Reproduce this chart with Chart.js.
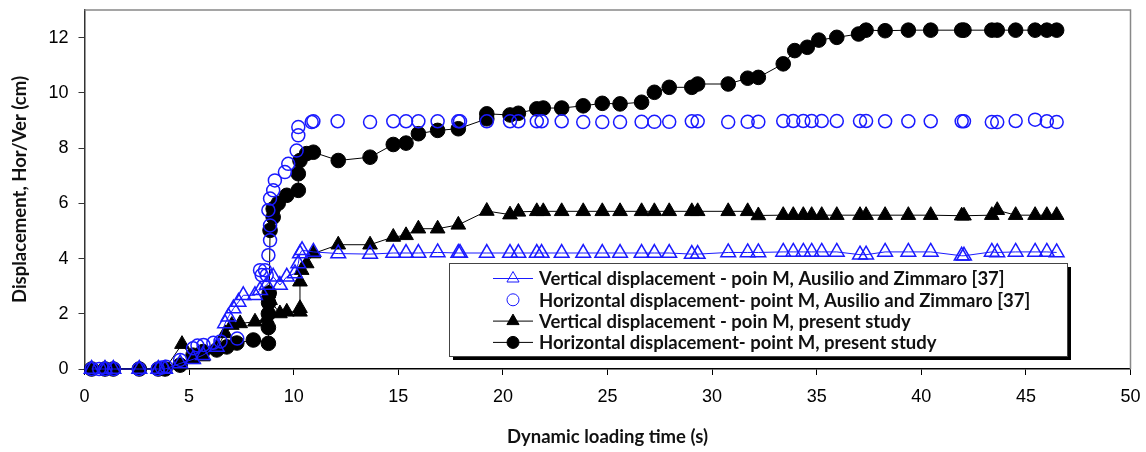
<!DOCTYPE html>
<html>
<head>
<meta charset="utf-8">
<script src="https://cdn.jsdelivr.net/npm/chart.js@4.4.1/dist/chart.umd.min.js"></script>
<style>
  html, body { margin: 0; padding: 0; background: #fff; }
  #wrap { width: 1146px; height: 452px; }
</style>
</head>
<body>
<div id="wrap"><canvas id="chart" width="1146" height="452"></canvas></div>
<script>
// Ausilio and Zimmaro [37] - vertical displacement (open blue triangles, blue line)
const AZ_VER_T = [0.34, 0.98, 1.38, 2.62, 3.53, 3.85, 4.57, 5.19, 5.66, 6.32, 6.72, 6.88, 7.12, 7.36, 7.59, 8.15, 8.39, 8.71, 9.02, 9.34, 9.67, 10.06, 10.22, 10.3, 10.4, 10.94, 12.13, 13.65,
  14.76, 15.37, 15.96, 16.88, 17.87, 17.95, 19.23, 20.34, 20.74, 21.62, 21.85, 22.81, 23.84, 24.75, 25.6, 26.63, 27.24, 27.95, 29.03, 29.31, 30.77, 31.7, 32.21,
  33.4, 33.88, 34.36, 34.76, 35.24, 35.96, 37.07, 37.36, 38.27, 39.38, 40.45, 41.93, 42.04, 43.37, 43.63, 44.51, 45.44, 46.0, 46.47];
const AZ_VER_D = [0, 0, 0, 0, 0, 0, 0.2, 0.35, 0.5, 0.8, 1.65, 1.89, 2.19, 2.43, 2.67, 2.67, 2.85, 3.04, 3.34, 3.04, 3.34, 3.46, 3.82, 4.18, 4.3, 4.24, 4.18, 4.16,
  4.2, 4.2, 4.2, 4.22, 4.2, 4.2, 4.2, 4.2, 4.2, 4.2, 4.2, 4.2, 4.2, 4.2, 4.2, 4.2, 4.2, 4.2, 4.16, 4.16, 4.22, 4.22, 4.22,
  4.24, 4.24, 4.24, 4.24, 4.24, 4.24, 4.14, 4.14, 4.24, 4.24, 4.24, 4.1, 4.1, 4.24, 4.22, 4.24, 4.24, 4.24, 4.22];

// Ausilio and Zimmaro [37] - horizontal displacement (open blue circles, no line)
const AZ_HOR_T = [0.34, 0.7, 1.0, 1.4, 2.6, 3.5, 3.7, 3.9, 4.57, 5.19, 5.4, 5.69, 6.16, 6.5, 7.3, 8.39, 8.47, 8.63, 8.71, 8.79, 8.87, 8.87, 8.79, 8.87, 9.02, 9.1, 9.58, 9.74, 10.14, 10.22, 10.22, 10.86, 10.94, 12.1, 13.65,
  14.76, 15.37, 15.96, 16.88, 17.87, 17.95, 19.23, 20.34, 20.74, 21.62, 21.85, 22.81, 23.84, 24.75, 25.6, 26.63, 27.24, 27.95, 29.03, 29.31, 30.77, 31.7, 32.21,
  33.4, 33.88, 34.36, 34.76, 35.24, 35.96, 37.07, 37.36, 38.27, 39.38, 40.45, 41.93, 42.04, 43.37, 43.63, 44.51, 45.44, 46.0, 46.47];
const AZ_HOR_D = [0, 0, 0, 0, 0, 0, 0.05, 0.08, 0.33, 0.75, 0.85, 0.87, 0.95, 1.0, 1.1, 3.58, 3.4, 3.58, 3.4, 4.12, 4.66, 5.2, 5.75, 6.17, 6.47, 6.83, 7.13, 7.43, 7.91, 8.46, 8.76, 8.94, 8.97, 8.97, 8.94,
  8.97, 8.97, 8.97, 8.97, 8.97, 8.97, 8.97, 8.97, 8.97, 8.97, 8.97, 8.97, 8.94, 8.94, 8.94, 8.95, 8.95, 8.95, 8.97, 8.97, 8.94, 8.95, 8.95,
  8.98, 8.98, 8.98, 8.98, 8.98, 8.98, 8.98, 8.98, 8.97, 8.97, 8.97, 8.97, 8.97, 8.94, 8.94, 8.98, 9.03, 8.97, 8.94];

// Present study - vertical displacement (filled black triangles, black line)
const PS_VER_T = [0.34, 0.98, 1.38, 2.62, 3.53, 3.85, 4.66, 5.19, 5.66, 6.32, 6.72, 7.04, 7.44, 8.15, 8.71, 8.79, 8.87, 9.34, 9.67, 10.3, 10.3, 10.3, 10.38, 10.62, 10.94, 12.13, 13.65,
  14.76, 15.37, 15.96, 16.88, 17.87, 19.23, 20.34, 20.74, 21.62, 21.93, 22.81, 23.84, 24.75, 25.6, 26.63, 27.24, 27.95, 29.03, 29.31, 30.77, 31.7, 32.21,
  33.4, 33.88, 34.36, 34.76, 35.24, 35.96, 37.07, 37.36, 38.27, 39.38, 40.45, 41.93, 42.04, 43.37, 43.63, 44.51, 45.44, 46.0, 46.47];
const PS_VER_D = [0, 0, 0, 0, 0, 0, 0.9, 0.35, 0.45, 0.75, 1.29, 1.59, 1.65, 1.71, 1.83, 2.73, 2.49, 2.01, 2.07, 2.07, 2.2, 3.16, 3.58, 3.82, 4.18, 4.5, 4.5,
  4.78, 4.84, 5.08, 5.08, 5.22, 5.72, 5.59, 5.69, 5.71, 5.71, 5.71, 5.71, 5.71, 5.71, 5.71, 5.71, 5.71, 5.71, 5.71, 5.71, 5.71, 5.56,
  5.57, 5.57, 5.57, 5.57, 5.57, 5.57, 5.57, 5.57, 5.57, 5.57, 5.57, 5.55, 5.55, 5.57, 5.75, 5.57, 5.57, 5.57, 5.57];

// Present study - horizontal displacement (filled black circles, black line)
const PS_HOR_T = [0.34, 0.98, 1.38, 2.62, 3.53, 3.85, 4.57, 5.19, 5.66, 6.32, 6.8, 7.28, 8.07, 8.79, 8.79, 8.79, 8.8, 8.83, 8.87, 9.02, 9.02, 9.26, 9.67, 10.22, 10.22, 10.3, 10.62, 10.94, 12.13, 13.65,
  14.76, 15.37, 15.96, 16.88, 17.87, 19.23, 19.23, 20.34, 20.74, 21.62, 21.93, 22.81, 23.84, 24.75, 25.6, 26.63, 27.24, 27.95, 29.03, 29.31, 30.77, 31.7, 32.21,
  33.4, 33.95, 34.55, 35.1, 35.96, 37.0, 37.36, 38.27, 39.38, 40.45, 41.93, 42.04, 43.37, 43.63, 44.51, 45.44, 46.0, 46.47];
const PS_HOR_D = [0, 0, 0, 0, 0, 0, 0.14, 0.5, 0.63, 0.69, 0.8, 0.94, 1.05, 0.93, 1.5, 2.0, 2.4, 2.75, 5.02, 5.5, 5.8, 6.0, 6.29, 6.47, 7.07, 7.55, 7.8, 7.85, 7.55, 7.67,
  8.13, 8.18, 8.52, 8.64, 8.7, 9.06, 9.24, 9.2, 9.26, 9.42, 9.45, 9.45, 9.53, 9.62, 9.6, 9.66, 10.02, 10.2, 10.2, 10.32, 10.32, 10.53, 10.56,
  11.05, 11.53, 11.65, 11.91, 12.01, 12.13, 12.27, 12.25, 12.27, 12.27, 12.27, 12.27, 12.27, 12.27, 12.27, 12.27, 12.27, 12.27];

const SERIES_LABELS = [
  "Vertical displacement - poin M, Ausilio and Zimmaro [37]",
  "Horizontal displacement- point M, Ausilio and Zimmaro [37]",
  "Vertical displacement - poin M, present study",
  "Horizontal displacement- point M, present study",
];

const X_TICKS = [0, 5, 10, 15, 20, 25, 30, 35, 40, 45, 50];
const Y_TICKS = [0, 2, 4, 6, 8, 10, 12];

const BLUE = "#1a1aff";
const BLACK = "#000";
const TICK_FONT = "'Liberation Sans Narrow', 'Liberation Sans', Arial, sans-serif";
const LABEL_FONT = "Lato, Carlito, Calibri, sans-serif";

const toPoints = (ts, ds) => ts.map((t, i) => ({ x: t, y: ds[i] }));

// light grey top/right border of the plot box
const plotFrame = {
  id: "plotFrame",
  beforeDatasetsDraw(chart) {
    const { ctx, chartArea: a } = chart;
    ctx.save();
    ctx.strokeStyle = "#888";
    ctx.lineWidth = 1.5;
    ctx.beginPath();
    ctx.moveTo(a.left, a.top);
    ctx.lineTo(a.right, a.top);
    ctx.lineTo(a.right, a.bottom);
    ctx.stroke();
    ctx.restore();
  },
};

// boxed legend sitting inside the plot, with a drop shadow
const boxLegend = {
  id: "boxLegend",
  afterDatasetsDraw(chart) {
    const { ctx, chartArea: a } = chart;
    const x = a.left + 364.5;
    const y = a.top + 253;
    const w = 618;
    const h = 93;
    ctx.save();
    ctx.fillStyle = "#000";
    ctx.fillRect(x + 4, y + 4, w, h);
    ctx.fillStyle = "#fff";
    ctx.fillRect(x, y, w, h);
    ctx.strokeStyle = "#444";
    ctx.lineWidth = 1;
    ctx.strokeRect(x + 0.5, y + 0.5, w, h);

    chart.data.datasets.forEach((ds, i) => {
      const cy = y + 15.5 + i * 21.3;
      const mx = x + 64;
      ctx.strokeStyle = ds.borderColor;
      ctx.lineWidth = 1;
      if (ds.showLine) {
        ctx.beginPath();
        ctx.moveTo(x + 44, cy);
        ctx.lineTo(x + 84, cy);
        ctx.stroke();
      }
      ctx.fillStyle = ds.pointBackgroundColor;
      ctx.strokeStyle = ds.pointBorderColor;
      Chart.helpers.drawPoint(ctx, {
        pointStyle: ds.pointStyle,
        radius: ds.pointStyle === "triangle" ? 7 : 6,
        borderWidth: ds.pointBorderWidth,
        rotation: 0,
      }, mx, cy);
      ctx.fillStyle = "#111";
      ctx.font = "bold 18.5px " + LABEL_FONT;
      ctx.textBaseline = "middle";
      ctx.textAlign = "left";
      ctx.fillText(ds.label, x + 90, cy + 1);
    });
    ctx.restore();
  },
};

function makeDataset(label, ts, ds, color, style, filled, line) {
  const r = style === "triangle" ? 8.5 : (filled ? 7.3 : 6.5);
  return {
    label,
    data: toPoints(ts, ds),
    showLine: line,
    borderColor: color,
    borderWidth: 1,
    pointStyle: style,
    pointRadius: r,
    pointHoverRadius: r,
    pointBorderWidth: filled ? 1 : 1.5,
    pointBorderColor: color,
    pointBackgroundColor: filled ? color : "rgba(0,0,0,0)",
    tension: 0,
    clip: false,
  };
}

function initChart() {
  const ctx = document.getElementById("chart").getContext("2d");
  new Chart(ctx, {
    type: "scatter",
    data: {
      datasets: [
        makeDataset(SERIES_LABELS[0], AZ_VER_T, AZ_VER_D, BLUE, "triangle", false, true),
        makeDataset(SERIES_LABELS[1], AZ_HOR_T, AZ_HOR_D, BLUE, "circle", false, false),
        makeDataset(SERIES_LABELS[2], PS_VER_T, PS_VER_D, BLACK, "triangle", true, true),
        makeDataset(SERIES_LABELS[3], PS_HOR_T, PS_HOR_D, BLACK, "circle", true, true),
      ],
    },
    options: {
      responsive: false,
      animation: false,
      devicePixelRatio: 1,
      layout: { padding: { top: 9, right: 15.5, left: 0, bottom: 0 } },
      plugins: {
        legend: { display: false },
        tooltip: { enabled: false },
      },
      scales: {
        x: {
          type: "linear",
          min: 0,
          max: 50,
          afterFit: (scale) => {
            scale.height = 83;
            scale.paddingLeft = 0;
            scale.paddingRight = 0;
          },
          afterBuildTicks: (scale) => { scale.ticks = X_TICKS.map((v) => ({ value: v })); },
          ticks: {
            color: "#000",
            padding: 11,
            maxRotation: 0,
            font: { size: 18, family: TICK_FONT },
          },
          grid: { drawOnChartArea: false, drawTicks: true, tickLength: 6, color: "#000" },
          border: { display: true, color: "#000", width: 1.5 },
          title: {
            display: true,
            text: "Dynamic loading time (s)",
            color: "#111",
            font: { size: 18.5, weight: "bold", family: LABEL_FONT },
            padding: { top: 4, bottom: 4 },
          },
        },
        y: {
          type: "linear",
          min: 0,
          max: 13,
          afterFit: (scale) => {
            scale.width = 84.5;
            scale.paddingTop = 0;
            scale.paddingBottom = 0;
          },
          afterBuildTicks: (scale) => { scale.ticks = Y_TICKS.map((v) => ({ value: v })); },
          ticks: {
            color: "#000",
            padding: 10,
            font: { size: 18, family: TICK_FONT },
          },
          grid: { drawOnChartArea: false, drawTicks: true, tickLength: 6, color: "#333" },
          border: { display: true, color: "#333", width: 1.5 },
          title: {
            display: true,
            text: "Displacement, Hor/Ver (cm)",
            color: "#111",
            font: { size: 18.5, weight: "bold", family: LABEL_FONT },
            padding: { top: 9, bottom: 4 },
          },
        },
      },
    },
    plugins: [plotFrame, boxLegend],
  });
}

document.addEventListener("DOMContentLoaded", initChart);
</script>
</body>
</html>
